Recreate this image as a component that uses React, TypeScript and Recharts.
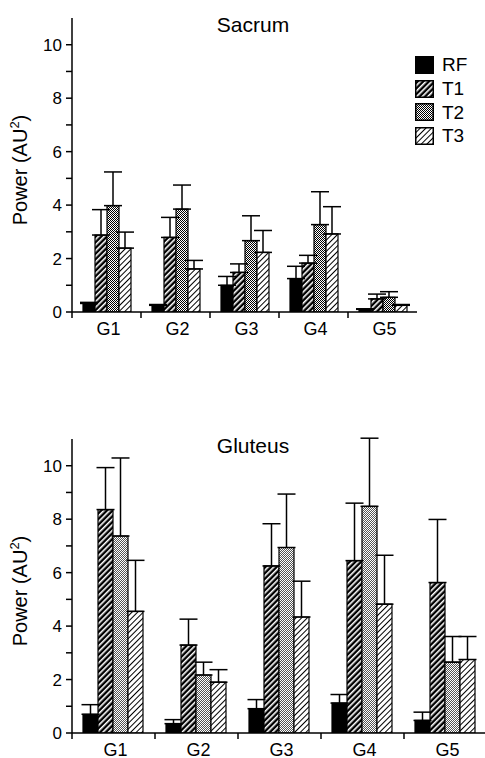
import React from 'react';
import { BarChart, Bar, XAxis, YAxis, ErrorBar, Legend, Label } from 'recharts';

const groups = ['G1', 'G2', 'G3', 'G4', 'G5'];
const seriesNames = ['RF', 'T1', 'T2', 'T3'];
const yTicks = [0, 1, 2, 3, 4, 5, 6, 7, 8, 9, 10];

// Sacrum: means and upward error (SD)
const sacrumRF = [0.32, 0.25, 1.0, 1.25, 0.1];
const sacrumRFErr = [0.04, 0.03, 0.33, 0.46, 0.02];
const sacrumT1 = [2.88, 2.79, 1.48, 1.83, 0.49];
const sacrumT1Err = [0.95, 0.75, 0.32, 0.29, 0.18];
const sacrumT2 = [3.98, 3.85, 2.67, 3.27, 0.55];
const sacrumT2Err = [1.26, 0.9, 0.93, 1.23, 0.21];
const sacrumT3 = [2.39, 1.61, 2.23, 2.92, 0.25];
const sacrumT3Err = [0.6, 0.32, 0.82, 1.02, 0.03];

// Gluteus
const gluteusRF = [0.7, 0.35, 0.91, 1.12, 0.47];
const gluteusRFErr = [0.36, 0.15, 0.34, 0.32, 0.31];
const gluteusT1 = [8.36, 3.29, 6.25, 6.45, 5.63];
const gluteusT1Err = [1.57, 0.97, 1.58, 2.15, 2.36];
const gluteusT2 = [7.37, 2.17, 6.94, 8.48, 2.65];
const gluteusT2Err = [2.92, 0.48, 2.0, 2.55, 0.96];
const gluteusT3 = [4.55, 1.9, 4.34, 4.82, 2.75];
const gluteusT3Err = [1.91, 0.47, 1.34, 1.83, 0.86];

function buildRows(means: number[][], errs: number[][]) {
  return groups.map((g, i) => {
    const row: any = { group: g };
    seriesNames.forEach((s, k) => {
      row[s] = means[k][i];
      row[s + 'Err'] = [0, errs[k][i]];
    });
    return row;
  });
}

const sacrumRows = buildRows(
  [sacrumRF, sacrumT1, sacrumT2, sacrumT3],
  [sacrumRFErr, sacrumT1Err, sacrumT2Err, sacrumT3Err]
);
const gluteusRows = buildRows(
  [gluteusRF, gluteusT1, gluteusT2, gluteusT3],
  [gluteusRFErr, gluteusT1Err, gluteusT2Err, gluteusT3Err]
);

const FONT = '"Liberation Sans", Arial, Helvetica, sans-serif';

function fillFor(prefix: string, s: string) {
  if (s === 'RF') return '#000';
  return `url(#${prefix}-${s})`;
}

function Patterns({ prefix, t2Color }: { prefix: string; t2Color: string }) {
  return (
    <defs>
      <pattern id={`${prefix}-T1`} patternUnits="userSpaceOnUse" width={4} height={4} patternTransform="rotate(45)">
        <rect width={4} height={4} fill="#000" />
        <rect x={0} y={0} width={1.6} height={4} fill="#fff" />
      </pattern>
      <pattern id={`${prefix}-T2`} patternUnits="userSpaceOnUse" width={2} height={2}>
        <rect width={2} height={2} fill="#fff" />
        <rect x={0} y={0} width={1} height={1} fill={t2Color} />
        <rect x={1} y={1} width={1} height={1} fill={t2Color} />
      </pattern>
      <pattern id={`${prefix}-T3`} patternUnits="userSpaceOnUse" width={4} height={4} patternTransform="rotate(45)">
        <rect width={4} height={4} fill="#fff" />
        <rect x={0} y={0} width={1} height={4} fill="#000" />
      </pattern>
    </defs>
  );
}

function GroupTick(props: any) {
  const { x, y, payload, width, visibleTicksCount } = props;
  const bw = width && visibleTicksCount ? width / visibleTicksCount : 83;
  const lx = x - bw / 2;
  return (
    <g>
      <line x1={lx} y1={y - 10} x2={lx} y2={y - 4} stroke="#000" strokeWidth={1.5} />
      <text x={x + 2} y={y} dy={12.5} textAnchor="middle" fontSize={18} fill="#000" fontFamily={FONT}>
        {payload.value}
      </text>
    </g>
  );
}

function YLabel(props: any) {
  const vb = props.viewBox || { x: 0, y: 18, width: 72, height: 294 };
  const x = vb.x + 27;
  const y = vb.y + vb.height / 2 + 5;
  return (
    <text x={x} y={y} transform={`rotate(-90 ${x} ${y})`} textAnchor="middle" fontSize={20} fill="#000" fontFamily={FONT}>
      Power (AU<tspan dy={-8} fontSize={13}>2</tspan><tspan dy={8}>)</tspan>
    </text>
  );
}

function LegendBox({ prefix }: { prefix: string }) {
  return (
    <div style={{ fontFamily: FONT }}>
      {seriesNames.map((s) => (
        <div key={s} style={{ display: 'flex', alignItems: 'center', height: 23.7 }}>
          <svg width={19} height={18} style={{ display: 'block' }}>
            <rect x={0.75} y={0.75} width={17.5} height={16.5} fill={fillFor(prefix, s)} stroke="#000" strokeWidth={1.5} />
          </svg>
          <span style={{ marginLeft: 8, fontSize: 19, lineHeight: '19px', color: '#000' }}>{s}</span>
        </div>
      ))}
    </div>
  );
}

function Panel({ title, rows, prefix, t2Color, showLegend }: any) {
  return (
    <BarChart
      width={487}
      height={345}
      data={rows}
      margin={{ top: 18, right: 0, bottom: 0, left: 0 }}
      barCategoryGap={11}
      barGap={0}
      style={{ fontFamily: FONT }}
    >
      <Patterns prefix={prefix} t2Color={t2Color} />
      <XAxis
        dataKey="group"
        height={33}
        interval={0}
        axisLine={{ stroke: '#000', strokeWidth: 1.5 }}
        tickLine={false}
        tickSize={6}
        tickMargin={4}
        tick={<GroupTick />}
      />
      <YAxis
        width={72}
        domain={[0, 11]}
        allowDataOverflow
        ticks={yTicks}
        interval={0}
        tickFormatter={(v: number) => (v % 2 === 0 ? String(v) : '')}
        axisLine={{ stroke: '#000', strokeWidth: 1.5 }}
        tickLine={{ stroke: '#000', strokeWidth: 1.5 }}
        tickSize={6}
        tickMargin={4}
        tick={{ fill: '#000', fontSize: 17, fontFamily: FONT }}
      >
        <Label content={<YLabel />} />
      </YAxis>
      {seriesNames.map((s) => (
        <Bar key={s} dataKey={s} fill={fillFor(prefix, s)} stroke="#000" strokeWidth={1.2} isAnimationActive={false}>
          <ErrorBar dataKey={s + 'Err'} width={9} strokeWidth={1.5} stroke="#000" direction="y" isAnimationActive={false} />
        </Bar>
      ))}
      <text x={253} y={32} textAnchor="middle" fontSize={21} fill="#000" fontFamily={FONT}>
        {title}
      </text>
      {showLegend && (
        <Legend
          layout="horizontal"
          verticalAlign="middle"
          align="right"
          wrapperStyle={{ top: 53, left: 415, width: 70 }}
          content={() => <LegendBox prefix={prefix} />}
        />
      )}
    </BarChart>
  );
}

export default function App() {
  return (
    <div
      style={{
        position: 'absolute',
        left: 0,
        top: 0,
        width: 485,
        height: 758,
        overflow: 'hidden',
        background: '#fff',
        fontFamily: FONT,
      }}
    >
      <div style={{ position: 'absolute', left: 0, top: 0 }}>
        <Panel title="Sacrum" rows={sacrumRows} prefix="sac" t2Color="#000" showLegend />
      </div>
      <div style={{ position: 'absolute', left: 0, top: 421 }}>
        <Panel title="Gluteus" rows={gluteusRows} prefix="glu" t2Color="#555" showLegend={false} />
      </div>
    </div>
  );
}
